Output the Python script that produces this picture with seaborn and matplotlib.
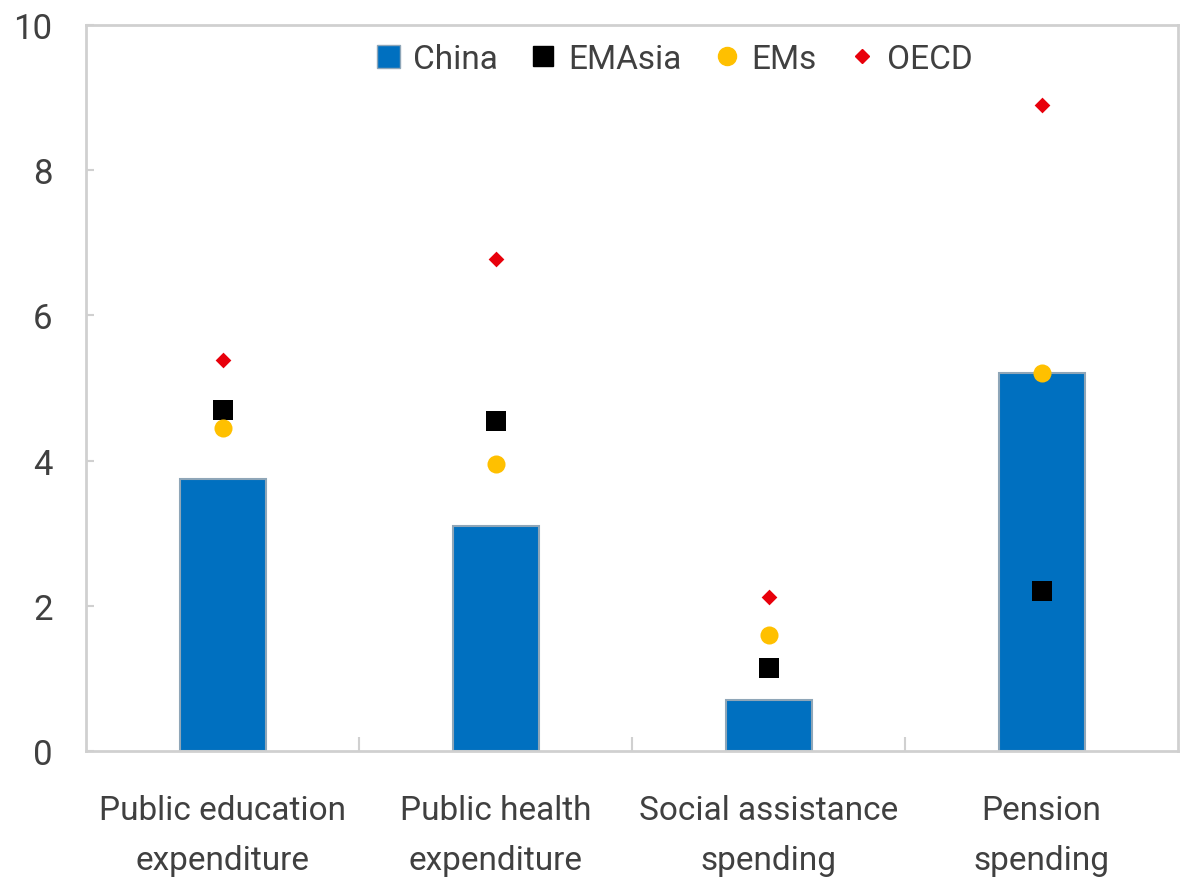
import matplotlib
matplotlib.use("Agg")
import matplotlib.pyplot as plt
from matplotlib.lines import Line2D
from matplotlib.patches import Patch
from matplotlib.ticker import FixedLocator
import seaborn as sns
import pandas as pd

categories = ["Public education\nexpenditure", "Public health\nexpenditure",
              "Social assistance\nspending", "Pension\nspending"]
china = [3.75, 3.1, 0.7, 5.2]
emasia = [4.7, 4.55, 1.15, 2.2]
ems = [4.45, 3.95, 1.6, 5.2]
oecd = [5.38, 6.77, 2.12, 8.9]
yticks = [0, 2, 4, 6, 8, 10]

sns.set_style("white")
plt.rcParams["font.family"] = ["Roboto", "DejaVu Sans"]

df = pd.DataFrame({"cat": categories, "China": china, "EMAsia": emasia, "EMs": ems, "OECD": oecd})

fig = plt.figure(figsize=(11.88, 8.87), dpi=100)
ax = fig.add_axes([0.0724, 0.1522, 0.9192, 0.8185])

bar_col = "#0070C0"
sns.barplot(data=df, x="cat", y="China", color=bar_col, width=0.315, saturation=1,
            edgecolor="#8FA6B8", linewidth=1.5, ax=ax)
sns.stripplot(data=df, x="cat", y="EMAsia", jitter=False, marker="s", size=15,
              color="black", linewidth=0, ax=ax, zorder=3)
sns.stripplot(data=df, x="cat", y="EMs", jitter=False, marker="o", size=13,
              color="#FFC000", linewidth=0, ax=ax, zorder=4)
sns.stripplot(data=df, x="cat", y="OECD", jitter=False, marker="D", size=8,
              color="#E8000B", linewidth=0, ax=ax, zorder=5)

ax.set_xlim(-0.5, 3.5)
ax.set_ylim(0, 10)
ax.set_yticks(yticks)
ax.set_xlabel("")
ax.set_ylabel("")

for s in ax.spines.values():
    s.set_color("#D0D0D0")
    s.set_linewidth(2)

ax.tick_params(axis="y", direction="in", length=6, width=1.5, color="#D0D0D0",
               labelsize=25, labelcolor="#404040", pad=24, left=True)
ax.tick_params(axis="x", which="major", length=0, labelsize=24, labelcolor="#404040", pad=31)
ax.xaxis.set_minor_locator(FixedLocator([0.5, 1.5, 2.5]))
ax.tick_params(axis="x", which="minor", direction="in", length=10, width=1.5,
               color="#D0D0D0", bottom=True)
for lab in ax.get_xticklabels():
    lab.set_linespacing(1.7)

handles = [
    Patch(facecolor=bar_col, edgecolor="#8FA6B8", label="China"),
    Line2D([], [], marker="s", color="black", linestyle="", markersize=14, label="EMAsia"),
    Line2D([], [], marker="o", color="#FFC000", linestyle="", markersize=13, label="EMs"),
    Line2D([], [], marker="D", color="#E8000B", linestyle="", markersize=7, label="OECD"),
]
leg = ax.legend(handles=handles, loc="center", bbox_to_anchor=(0.539, 0.953), ncol=4,
                frameon=False, fontsize=24, handlelength=0.7, handletextpad=0.4,
                columnspacing=1.0, labelcolor="#404040")

fig.savefig("out.png", dpi=100)
